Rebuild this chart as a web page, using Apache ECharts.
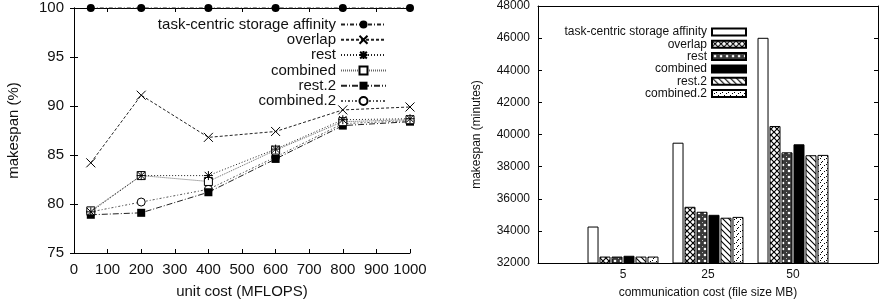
<!DOCTYPE html>
<html><head><meta charset="utf-8">
<script src="https://cdn.jsdelivr.net/npm/echarts@6/dist/echarts.min.js"></script>
<style>html,body{margin:0;padding:0;background:#fff}#c{width:885px;height:305px}</style>
</head><body><div id="c"></div>
<script>
// ---------- data ----------
const seriesNames = ['task-centric storage affinity','overlap','rest','combined','rest.2','combined.2'];

// left chart: makespan (%) vs unit cost (MFLOPS)
const unitCosts = [50, 200, 400, 600, 800, 1000];
const taskCentricPct = [100, 100, 100, 100, 100, 100];
const overlapPct     = [84.2, 91.1, 86.8, 87.4, 89.6, 89.9];
const restPct        = [79.2, 82.9, 82.9, 85.6, 88.6, 88.7];
const combinedPct    = [79.3, 82.9, 82.3, 85.5, 88.4, 88.6];
const rest2Pct       = [78.9, 79.1, 81.2, 84.6, 88.0, 88.4];
const combined2Pct   = [79.2, 80.2, 81.5, 84.8, 88.2, 88.5];

// right chart: makespan (minutes) vs communication cost (file size MB)
const fileSizes = ['5', '25', '50'];
const taskCentricMin = [34270, 39490, 46020];
const overlapMin     = [32400, 35500, 40530];
const restMin        = [32400, 35190, 38890];
const combinedMin    = [32450, 35000, 39390];
const rest2Min       = [32400, 34820, 38710];
const combined2Min   = [32400, 34870, 38730];

// ---------- patterns ----------
function pattern(size, bg, draw){
  const c = document.createElement('canvas');
  c.width = c.height = size;
  const g = c.getContext('2d');
  g.fillStyle = bg; g.fillRect(0,0,size,size);
  draw(g, size);
  return {image: c, repeat: 'repeat'};
}
const patOverlap = pattern(6, '#fff', (g,s)=>{
  g.strokeStyle='#000'; g.lineWidth=1.2; g.beginPath();
  g.moveTo(0,0); g.lineTo(s,s); g.moveTo(s,0); g.lineTo(0,s); g.stroke();
});
const patRest = pattern(6, '#3a3a3a', (g,s)=>{
  g.fillStyle='#fff'; g.beginPath(); g.arc(3,3,1.3,0,Math.PI*2); g.fill();
  g.fillStyle='#bbb'; g.fillRect(0,0,1,1);
});
const patRest2 = pattern(6, '#fff', (g,s)=>{
  g.strokeStyle='#000'; g.lineWidth=1.1; g.beginPath();
  g.moveTo(0,0); g.lineTo(s,s); g.moveTo(-1,s-1); g.lineTo(1,s+1); g.moveTo(s-1,-1); g.lineTo(s+1,1); g.stroke();
});
const patCombined2 = pattern(6, '#fff', (g,s)=>{
  g.fillStyle='#000';
  g.fillRect(5,0,1,1); g.fillRect(2,3,1,1); g.fillRect(4,2,1,1); g.fillRect(0,5,1,1);
});

// ---------- chart ----------
const FONT = 'Liberation Sans';
const plain = v => String(v);
const lineData = [taskCentricPct, overlapPct, restPct, combinedPct, rest2Pct, combined2Pct];
const lineStyles = [
  {type:[4,2,1,2], color:'#222', symbol:'circle', size:8},
  {type:[3,2], color:'#222', symbol:'path://M0,0L10,10M10,0L0,10', size:9},
  {type:[1,2], color:'#222', symbol:'path://M0,0L10,10M10,0L0,10M5,-1L5,11M-1,5L11,5', size:9},
  {type:[1,1], color:'#666', symbol:'rect', size:8, empty:true},
  {type:[6,2,1,2], color:'#222', symbol:'rect', size:8},
  {type:[2,2,1,2], color:'#555', symbol:'circle', size:8, empty:true}
];
const barData = [taskCentricMin, overlapMin, restMin, combinedMin, rest2Min, combined2Min];
const barFills = ['#fff', patOverlap, patRest, '#000', patRest2, patCombined2];

const series = [];
seriesNames.forEach((n,i)=>{
  const st = lineStyles[i];
  const isPath = st.symbol.startsWith('path');
  series.push({
    type:'line', name:n, xAxisIndex:0, yAxisIndex:0,
    data: unitCosts.map((x,j)=>[x, lineData[i][j]]),
    symbol: st.symbol, symbolSize: st.size,
    lineStyle:{type:st.type, color:st.color, width:1},
    itemStyle: isPath ? {color:'none', borderColor:'#000', borderWidth:1}
             : st.empty ? {color:'#fff', borderColor:'#000', borderWidth:1}
             : {color:'#000', borderColor:'#000', borderWidth:0},
    z: 10 - i, clip:false, animation:false
  });
});
const padCats = [''].concat(fileSizes, ['']);
seriesNames.forEach((n,i)=>{
  series.push({
    type:'bar', name:n + ' ', xAxisIndex:2, yAxisIndex:2,
    data: [null].concat(barData[i], [null]),
    barWidth: 11, barGap:'9%',
    itemStyle:{color: barFills[i], borderColor:'#000', borderWidth:1},
    animation:false
  });
});

const axisCommon = {
  axisLine:{show:true, lineStyle:{color:'#000', width:1}},
  axisTick:{show:true, inside:true, length:4, lineStyle:{color:'#000'}},
  splitLine:{show:false}
};

const option = {
  backgroundColor:'#fff',
  textStyle:{fontFamily:FONT},
  grid:[
    {left:74, right:475, top:8, bottom:52},
    {left:538, right:7, top:5, bottom:42}
  ],
  xAxis:[
    Object.assign({}, axisCommon, {
      gridIndex:0, type:'value', min:0, max:1000, interval:100, position:'bottom',
      name:'unit cost (MFLOPS)', nameLocation:'middle', nameGap:31,
      nameTextStyle:{fontSize:15, color:'#111', fontFamily:FONT},
      axisLabel:{fontSize:15, color:'#111', margin:9, fontFamily:FONT, formatter:plain}
    }),
    Object.assign({}, axisCommon, {
      gridIndex:0, type:'value', min:0, max:1000, interval:100, position:'top',
      axisLabel:{show:false}
    }),
    Object.assign({}, axisCommon, {
      gridIndex:1, type:'category', data:padCats, boundaryGap:false, position:'bottom',
      axisTick:{show:false},
      name:'communication cost (file size MB)', nameLocation:'middle', nameGap:24,
      nameTextStyle:{fontSize:12, color:'#111', fontFamily:FONT},
      axisLabel:{fontSize:12, color:'#111', margin:6, fontFamily:FONT, interval:0}
    }),
    Object.assign({}, axisCommon, {
      gridIndex:1, type:'category', data:padCats, boundaryGap:false, position:'top',
      axisTick:{show:false}, axisLabel:{show:false}
    })
  ],
  yAxis:[
    Object.assign({}, axisCommon, {
      gridIndex:0, type:'value', min:75, max:100, interval:5, position:'left',
      name:'makespan (%)', nameLocation:'middle', nameGap:53,
      nameTextStyle:{fontSize:15, color:'#111', fontFamily:FONT},
      axisLabel:{fontSize:15, color:'#111', margin:10, fontFamily:FONT, formatter:plain}
    }),
    Object.assign({}, axisCommon, {
      gridIndex:0, type:'value', min:75, max:100, interval:5, position:'right',
      axisLabel:{show:false}
    }),
    Object.assign({}, axisCommon, {
      gridIndex:1, type:'value', min:32000, max:48000, interval:2000, position:'left',
      name:'makespan (minutes)', nameLocation:'middle', nameGap:55,
      nameTextStyle:{fontSize:12, color:'#111', fontFamily:FONT},
      axisLabel:{fontSize:12, color:'#111', margin:8, fontFamily:FONT, formatter:plain}
    }),
    Object.assign({}, axisCommon, {
      gridIndex:1, type:'value', min:32000, max:48000, interval:2000, position:'right',
      axisLabel:{show:false}
    })
  ],
  legend:[
    {
      data: seriesNames.slice(), orient:'vertical', align:'right',
      right: 493, top: 12, itemWidth:45, itemHeight:10, itemGap:0.3,
      textStyle:{fontSize:15, lineHeight:15, color:'#111', fontFamily:FONT},
      selectedMode:false
    },
    {
      data: seriesNames.map(n=>n+' '), orient:'vertical', align:'right',
      right: 133, top: 21, itemWidth:34, itemHeight:7, itemGap:0.3, icon:'rect',
      formatter: n => n.trim(),
      textStyle:{fontSize:12, lineHeight:12, color:'#111', fontFamily:FONT},
      selectedMode:false
    }
  ],
  series: series
};

const chart = echarts.init(document.getElementById('c'), null, {renderer:'canvas'});
chart.setOption(option);
</script>
</body></html>
